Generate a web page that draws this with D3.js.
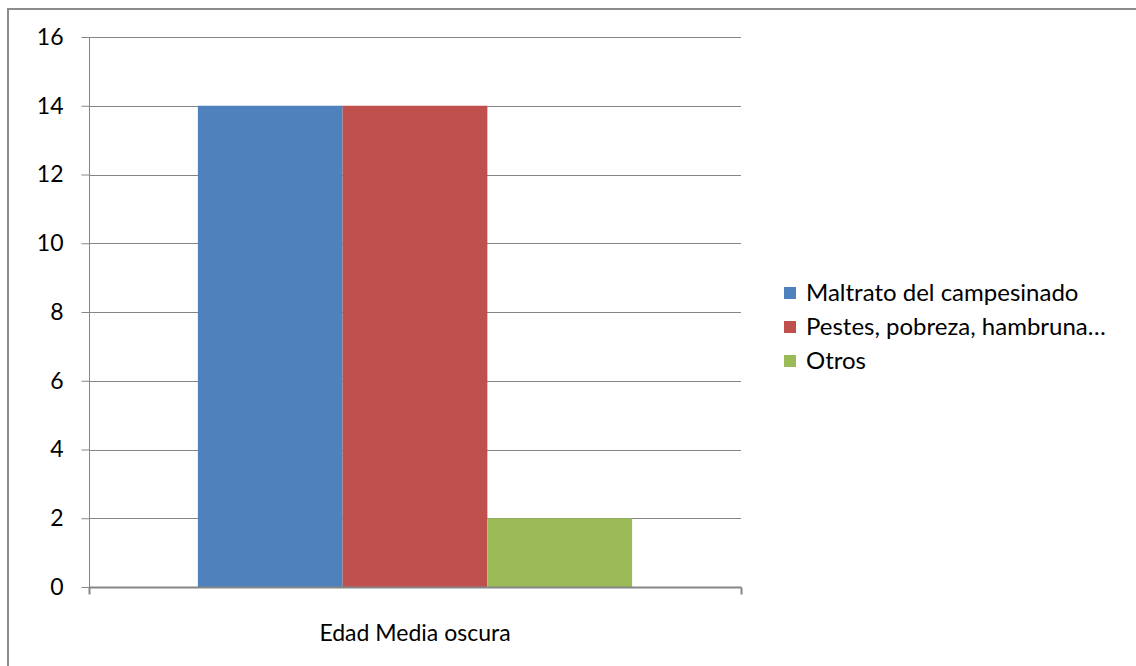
<!DOCTYPE html>
<html>
<head>
<meta charset="utf-8">
<script src="https://cdn.jsdelivr.net/npm/d3@7"></script>
<style>
  html, body { margin: 0; padding: 0; background: #fff; }
  svg { display: block; font-family: Lato, "Noto Sans", sans-serif; }
</style>
</head>
<body>
<svg id="chart" width="1136" height="666"></svg>
<script>
// Chart data
const categories = ["Edad Media oscura"];
const seriesNames = ["Maltrato del campesinado", "Pestes, pobreza, hambruna…", "Otros"];
const seriesValues = [14, 14, 2];
const seriesColors = ["#4F81BD", "#C0504D", "#9BBB59"];
const yTicks = [0, 2, 4, 6, 8, 10, 12, 14, 16];

const svg = d3.select("#chart");
const W = 1136, H = 666;
const plot = { left: 89, right: 741, top: 37, bottom: 587 };
const axisColor = "#868686";
const fontSize = 23;

// Outer frame (top and left edges)
svg.append("path")
  .attr("d", `M8,${H} L8,9 L${W},9`)
  .attr("fill", "none")
  .attr("stroke", "#8c8c8c")
  .attr("stroke-width", 2);

const y = d3.scaleLinear().domain([0, 16]).range([plot.bottom, plot.top]);
const x0 = d3.scaleBand().domain(categories).range([plot.left, plot.right]).paddingInner(0).paddingOuter(0);
const groupPad = 0.167;
const x1 = d3.scaleBand().domain(seriesNames)
  .range([x0.bandwidth() * groupPad, x0.bandwidth() * (1 - groupPad)]);

// Gridlines
svg.append("g")
  .selectAll("line")
  .data(yTicks.filter(d => d > 0))
  .join("line")
  .attr("x1", plot.left).attr("x2", plot.right)
  .attr("y1", d => Math.round(y(d)) + 0.5).attr("y2", d => Math.round(y(d)) + 0.5)
  .attr("stroke", axisColor).attr("stroke-width", 1);

// Bars
const group = svg.append("g").selectAll("g")
  .data(categories)
  .join("g")
  .attr("transform", d => `translate(${x0(d)},0)`);
group.selectAll("rect")
  .data(() => seriesNames.map((n, i) => ({ name: n, value: seriesValues[i], color: seriesColors[i] })))
  .join("rect")
  .attr("x", d => x1(d.name))
  .attr("width", x1.bandwidth())
  .attr("y", d => y(d.value))
  .attr("height", d => plot.bottom - y(d.value))
  .attr("fill", d => d.color);

// Y axis
const yAxis = svg.append("g")
  .attr("transform", `translate(${plot.left + 0.5},0)`)
  .call(d3.axisLeft(y).tickValues(yTicks).tickSize(8).tickPadding(18).tickFormat(d3.format("d")));
yAxis.select(".domain").attr("stroke", axisColor).attr("d", `M0,${plot.top}V${plot.bottom + 7}`);
yAxis.selectAll(".tick line").attr("stroke", axisColor);
yAxis.selectAll(".tick text").attr("font-size", fontSize).attr("fill", "#000").attr("font-family", "Lato, sans-serif");

// X axis
const xAxis = svg.append("g")
  .attr("transform", `translate(0,${plot.bottom + 0.5})`);
xAxis.append("line")
  .attr("x1", plot.left).attr("x2", plot.right + 0.5)
  .attr("stroke", axisColor).attr("stroke-width", 2);
xAxis.selectAll("line.tk")
  .data([plot.left, plot.right])
  .join("line")
  .attr("class", "tk")
  .attr("x1", d => d + 0.5).attr("x2", d => d + 0.5)
  .attr("y1", 0).attr("y2", 7)
  .attr("stroke", axisColor).attr("stroke-width", 2);
xAxis.selectAll("text")
  .data(categories)
  .join("text")
  .attr("x", d => x0(d) + x0.bandwidth() / 2)
  .attr("y", 53)
  .attr("text-anchor", "middle")
  .attr("font-size", fontSize)
  .attr("fill", "#000")
  .text(d => d);

// Legend
const legend = svg.append("g").attr("transform", "translate(784,293)");
const item = legend.selectAll("g")
  .data(seriesNames)
  .join("g")
  .attr("transform", (d, i) => `translate(0,${i * 34})`);
item.append("rect")
  .attr("x", 0).attr("y", -6)
  .attr("width", 12).attr("height", 12)
  .attr("fill", (d, i) => seriesColors[i]);
item.append("text")
  .attr("x", 22).attr("y", 0)
  .attr("dy", "0.35em")
  .attr("font-size", 24)
  .attr("fill", "#000")
  .text(d => d);
</script>
</body>
</html>
